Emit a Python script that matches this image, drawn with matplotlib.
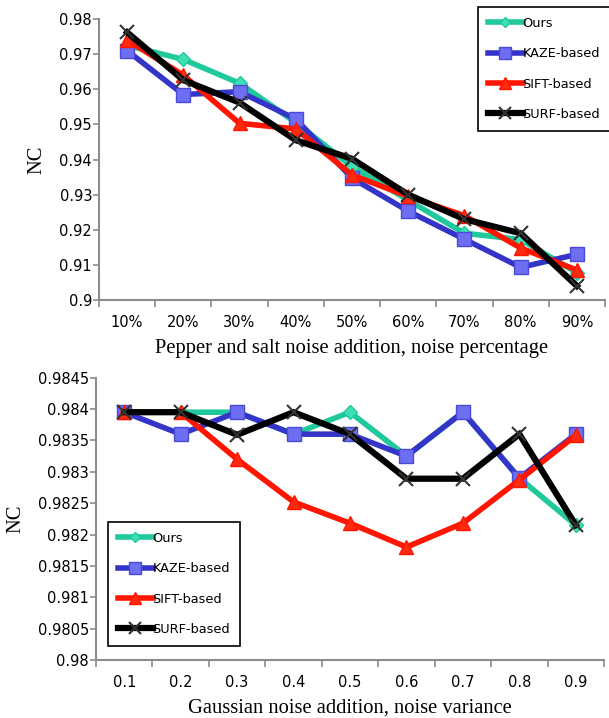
import matplotlib
matplotlib.use("Agg")
import matplotlib.pyplot as plt

# ---------------- data ----------------
series_names = ["Ours", "KAZE-based", "SIFT-based", "SURF-based"]

top_categories = ["10%", "20%", "30%", "40%", "50%", "60%", "70%", "80%", "90%"]
top_ours = [0.9725, 0.9685, 0.9617, 0.9505, 0.9380, 0.9284, 0.9190, 0.9172, 0.9078]
top_kaze = [0.9710, 0.9585, 0.9593, 0.9515, 0.9347, 0.9253, 0.9173, 0.9093, 0.9130]
top_sift = [0.9740, 0.9640, 0.9503, 0.9487, 0.9356, 0.9295, 0.9240, 0.9148, 0.9085]
top_surf = [0.9762, 0.9626, 0.9562, 0.9455, 0.9402, 0.9300, 0.9230, 0.9190, 0.9040]
top_yticks = [0.90, 0.91, 0.92, 0.93, 0.94, 0.95, 0.96, 0.97, 0.98]
top_yticklabels = ["0.9", "0.91", "0.92", "0.93", "0.94", "0.95", "0.96", "0.97", "0.98"]
top_xlabel = "Pepper and salt noise addition, noise percentage"

bot_categories = ["0.1", "0.2", "0.3", "0.4", "0.5", "0.6", "0.7", "0.8", "0.9"]
bot_ours = [0.98395, 0.98395, 0.98395, 0.98360, 0.98395, 0.98325, 0.98395, 0.98290, 0.98215]
bot_kaze = [0.98395, 0.98360, 0.98395, 0.98360, 0.98360, 0.98325, 0.98395, 0.98290, 0.98360]
bot_sift = [0.98395, 0.98395, 0.98320, 0.98252, 0.98218, 0.98180, 0.98218, 0.98287, 0.98358]
bot_surf = [0.98395, 0.98395, 0.98359, 0.98395, 0.98360, 0.98289, 0.98289, 0.98360, 0.98215]
bot_yticks = [0.9800, 0.9805, 0.9810, 0.9815, 0.9820, 0.9825, 0.9830, 0.9835, 0.9840, 0.9845]
bot_yticklabels = ["0.98", "0.9805", "0.981", "0.9815", "0.982", "0.9825", "0.983", "0.9835", "0.984", "0.9845"]
bot_xlabel = "Gaussian noise addition, noise variance"

ylabel = "NC"

# ---------------- style ----------------
W, H = 609, 718
fig = plt.figure(figsize=(W / 100, H / 100), dpi=100)

sans = ["DejaVu Sans"]
serif = ["Liberation Serif", "DejaVu Serif"]
tick_fs = 10.5
label_fs = 14.8

styles = [
    dict(color="#1FC99B", marker="D", ms=7, mfc="#3FE0B5", mec="#1FC99B", lw=4.0, zorder=3),
    dict(color="#3434C8", marker="s", ms=10, mfc="#6E6EF2", mec="#4A4AD8", lw=4.0, zorder=4),
    dict(color="#FF1500", marker="^", ms=10, mfc="#FF2A10", mec="#FF1500", lw=4.0, zorder=5),
    dict(color="#000000", marker="x", ms=10, mfc="none", mec="#333333", mew=1.5, lw=4.5, zorder=6),
]

spine_col = "#8C8C8C"


def make_axes(rect, cats, series, yticks, yticklabels, ylim, xlim, xlabel, legend_rect):
    ax = fig.add_axes(rect)
    x = list(range(1, len(cats) + 1))
    handles = []
    for vals, st, name in zip(series, styles, series_names):
        ln, = ax.plot(x, vals, label=name, solid_joinstyle="miter", **st)
        handles.append(ln)
    ax.set_xlim(*xlim)
    ax.set_ylim(*ylim)
    ax.set_yticks(yticks)
    ax.set_yticklabels(yticklabels, fontfamily=sans, fontsize=tick_fs)
    ax.set_xticks(x)
    ax.set_xticklabels(cats, fontfamily=sans, fontsize=tick_fs)
    ax.set_xticks([i + 0.5 for i in range(0, len(cats) + 1)], minor=True)
    ax.tick_params(axis="x", which="major", length=0, pad=11)
    ax.tick_params(axis="x", which="minor", length=5, width=1.2, color=spine_col, direction="out")
    ax.tick_params(axis="y", which="major", length=4, width=1.2, color=spine_col, direction="out", pad=1)
    for s in ["top", "right"]:
        ax.spines[s].set_visible(False)
    for s in ["left", "bottom"]:
        ax.spines[s].set_color(spine_col)
        ax.spines[s].set_linewidth(1.5)
    ax.set_xlabel(xlabel, fontfamily=serif, fontsize=label_fs, labelpad=6)
    ax.set_ylabel(ylabel, fontfamily=serif, fontsize=label_fs, labelpad=9)
    leg = fig.legend(handles=handles, loc="upper left", bbox_to_anchor=legend_rect,
                     bbox_transform=fig.transFigure,
                     prop={"family": sans, "size": 9.3}, frameon=True, fancybox=False,
                     edgecolor="black", framealpha=1, handlelength=2.7, handletextpad=0.0,
                     labelspacing=1.35, borderpad=0.75, borderaxespad=0, numpoints=1,
                     markerscale=0.8)
    leg.get_frame().set_linewidth(1.2)
    return ax


top_rect = [99 / W, 1 - 300 / H, (605 - 99) / W, (300 - 19) / H]
bot_rect = [96 / W, 1 - 660 / H, (604 - 96) / W, (660 - 377.7) / H]

make_axes(top_rect, top_categories, [top_ours, top_kaze, top_sift, top_surf],
          top_yticks, top_yticklabels, (0.90, 0.98), (0.5, 0.5 + 506 / 57.3), top_xlabel,
          (478 / W, 1 - 7 / H))
make_axes(bot_rect, bot_categories, [bot_ours, bot_kaze, bot_sift, bot_surf],
          bot_yticks, bot_yticklabels, (0.98, 0.9845), (0.5, 9.5), bot_xlabel,
          (108 / W, 1 - 522 / H))

fig.savefig("out.png", dpi=100)
